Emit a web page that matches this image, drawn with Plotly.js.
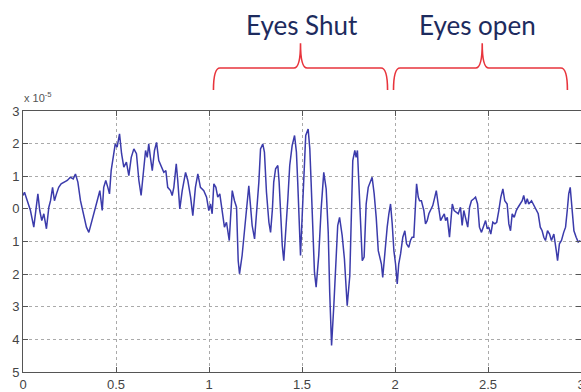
<!DOCTYPE html>
<html>
<head>
<meta charset="utf-8">
<script src="https://cdn.plot.ly/plotly-3.0.1.min.js"></script>
<style>html,body{margin:0;padding:0;background:#fff;}#chart{width:581px;height:392px;}</style>
</head>
<body>
<div id="chart"></div>
<script>
// Time (s)
const timeS = [
0.000,0.008,0.023,0.040,0.058,0.073,0.080,0.090,0.101,0.112,0.121,0.126,0.139,0.148,0.159,0.169,0.180,0.192,0.205,0.219,
0.238,0.255,0.270,0.282,0.295,0.309,0.327,0.341,0.354,0.367,0.381,0.399,0.413,0.426,0.434,0.445,0.456,0.465,0.474,0.485,
0.496,0.506,0.519,0.530,0.542,0.556,0.569,0.582,
0.596,0.610,0.623,0.635,0.646,0.659,0.668,0.676,0.685,0.695,0.707,0.718,0.730,0.743,0.757,0.768,0.778,0.793,0.802,0.811,
0.824,0.832,0.843,0.856,0.874,0.886,0.901,0.913,0.927,0.940,0.954,0.972,0.987,0.999,1.008,1.017,1.026,1.037,1.047,1.058,
1.071,1.083,1.094,1.109,1.116,1.125,1.137,1.148,1.157,1.164,
1.178,1.191,1.205,1.214,1.223,1.232,1.245,1.255,1.268,1.277,1.289,1.298,1.309,1.322,1.331,1.341,1.348,1.358,1.370,1.377,
1.384,1.394,1.402,1.413,1.424,1.434,1.447,1.460,1.470,1.477,1.485,1.492,1.501,1.510,1.520,1.533,1.542,1.549,1.558,1.567,
1.576,1.590,1.603,1.617,1.630,1.641,1.649,1.659,1.671,1.682,1.692,1.702,1.716,1.728,1.743,1.757,
1.766,1.773,1.784,1.791,1.798,1.805,1.815,1.824,1.834,1.845,1.856,1.868,1.877,1.888,1.899,1.910,1.918,1.927,1.934,1.945,
1.958,1.967,1.976,1.985,1.994,2.003,2.012,2.020,2.030,2.042,2.053,2.062,2.074,2.083,2.092,2.101,2.110,2.116,2.125,2.132,
2.142,2.155,2.164,2.173,2.182,2.192,2.203,2.214,2.222,2.232,2.245,2.254,2.265,2.272,2.281,2.293,2.300,2.308,2.318,
2.340,2.352,2.361,2.370,2.379,2.391,2.401,2.411,2.424,2.433,2.444,2.454,2.465,2.476,2.487,2.496,2.504,2.515,2.526,2.537,
2.547,2.558,2.569,2.580,2.590,2.603,2.612,2.621,2.630,2.641,2.652,2.662,2.673,2.684,2.692,2.702,2.711,2.719,2.734,2.746,
2.759,2.770,2.781,2.791,2.800,2.809,2.820,2.831,2.841,2.854,2.867,2.874,2.884,2.895,2.907,2.917,2.926,2.934,2.942,2.953,
2.962,2.974,2.985,2.996
];
// EEG amplitude (x 10^-5)
const amplitude = [
0.41,0.51,0.25,-0.05,-0.56,0.15,0.46,-0.05,-0.36,-0.15,-0.46,-0.61,0.05,0.25,0.66,0.25,0.46,0.66,0.77,0.82,
0.87,0.97,0.92,1.07,0.82,0.25,-0.26,-0.56,-0.72,-0.46,-0.15,0.25,0.56,-0.05,0.66,0.87,0.66,0.46,1.17,1.58,
1.99,1.89,2.30,1.69,1.28,1.43,1.02,1.58,
1.84,1.69,0.87,0.41,1.07,1.79,1.58,1.99,1.58,1.17,1.79,2.04,1.48,1.28,1.12,1.17,0.66,0.56,0.41,0.66,
1.38,0.87,0.00,0.56,1.12,0.87,0.36,-0.21,0.66,1.07,0.66,0.56,0.36,-0.05,0.15,-0.15,0.77,0.66,0.36,0.46,
-0.15,-0.56,-0.41,-0.97,-0.26,0.56,0.25,0.05,-1.59,-1.99,
-1.43,-0.61,0.20,0.71,0.10,-0.51,-0.92,-0.21,0.82,1.84,1.99,1.74,0.51,-0.41,-0.72,0.00,0.82,1.23,1.33,0.82,
-0.21,-1.13,-1.59,-0.72,0.31,1.33,1.94,2.25,1.74,0.82,-0.31,-1.43,-0.21,1.23,2.25,2.45,1.84,0.82,-0.51,-1.94,
-2.40,-1.43,0.00,1.12,0.61,-0.72,-2.56,-4.19,-2.97,-1.43,-0.51,-0.26,-0.82,-1.53,-2.97,-2.05,
0.25,1.48,1.79,1.58,1.79,0.87,-0.67,-1.59,-1.48,0.15,0.66,0.87,0.97,0.46,-0.26,-1.28,-1.53,-1.69,-2.10,-1.28,
-0.56,-0.15,0.15,-0.46,-1.28,-1.69,-2.30,-1.69,-1.38,-0.87,-0.67,-1.07,-1.18,-0.97,-0.87,-0.87,0.36,0.77,0.36,0.25,
0.25,-0.05,-0.46,-0.36,-0.15,-0.05,0.10,0.36,0.56,0.15,-0.36,-0.26,-0.15,-0.36,-0.26,-0.87,-0.26,0.15,-0.05,
-0.15,0.05,-0.51,-0.05,-0.26,-0.56,0.05,0.25,0.31,0.36,0.15,-0.56,-0.72,-0.56,-0.36,-0.61,-0.56,-0.77,-0.41,-0.46,
-0.41,-0.05,0.36,0.61,0.25,0.15,-0.46,-0.67,-0.15,-0.26,-0.05,0.05,0.15,0.25,0.41,0.15,0.31,0.15,0.25,0.10,
-0.05,-0.15,-0.56,-0.67,-0.87,-0.97,-0.67,-0.77,-0.97,-0.77,-1.28,-1.59,-1.07,-0.97,-0.72,-0.56,-0.05,0.46,0.66,0.05,
-0.67,-0.87,-1.02,-0.97
];
const xTickVals = [0, 0.5, 1, 1.5, 2, 2.5, 3];
const xTickText = ['0', '0.5', '1', '1.5', '2', '2.5', '3'];
const yTickVals = [-5, -4, -3, -2, -1, 0, 1, 2, 3];
const yTickText = ['5', '4', '3', '2', '1', '0', '1', '2', '3'];
const phaseLabels = ['Eyes Shut', 'Eyes open'];
const phaseStart = [1.024, 1.992];
const phaseEnd = [1.960, 2.927];
const phaseMid = [1.492, 2.469];
const labelX = [1.501, 2.442];

function bracePath(x1, x2, xc) {
  const yb = 1.08, yt = 1.165, ytop = 1.26, d = 0.035;
  return `M ${x1},${yb} Q ${x1},${yt} ${x1 + d},${yt} L ${xc - d},${yt} Q ${xc},${yt} ${xc},${ytop} ` +
         `Q ${xc},${yt} ${xc + d},${yt} L ${x2 - d},${yt} Q ${x2},${yt} ${x2},${yb}`;
}

const shapes = phaseStart.map((s, i) => ({
  type: 'path', xref: 'x', yref: 'paper',
  path: bracePath(s, phaseEnd[i], phaseMid[i]),
  line: {color: '#e8343c', width: 1.6}
}));

const annotations = phaseLabels.map((t, i) => ({
  text: t, xref: 'x', yref: 'paper', x: labelX[i], y: 1.33,
  xanchor: 'center', yanchor: 'middle', showarrow: false,
  font: {family: 'Lato, Open Sans, sans-serif', size: 26, color: '#1d2b5e'}
}));
annotations.push({
  text: 'x 10<sup>-5</sup>', xref: 'paper', yref: 'paper', x: -0.002, y: 1.055,
  xanchor: 'left', yanchor: 'middle', showarrow: false,
  font: {family: 'Liberation Sans, Arial, sans-serif', size: 11, color: '#555'}
});

const trace = {
  x: timeS, y: amplitude, type: 'scatter', mode: 'lines',
  line: {color: '#3b3bab', width: 1.5},
  hoverinfo: 'skip'
};

const axisCommon = {
  showline: true, linecolor: '#555', linewidth: 1, mirror: 'ticks',
  ticks: 'inside', ticklen: 5, tickcolor: '#555',
  showgrid: true, gridcolor: '#aaaaaa', griddash: 'dot', gridwidth: 1,
  zeroline: false, ticklabeloverflow: 'allow',
  tickfont: {family: 'Liberation Sans, Arial, sans-serif', size: 13, color: '#444'}
};

const layout = {
  width: 581, height: 392,
  margin: {l: 23, r: 0, t: 111, b: 20, pad: 0},
  paper_bgcolor: '#fff', plot_bgcolor: '#fff',
  showlegend: false,
  xaxis: Object.assign({}, axisCommon, {range: [0, 3], tickmode: 'array', tickvals: xTickVals, ticktext: xTickText}),
  yaxis: Object.assign({}, axisCommon, {range: [-5, 3], tickmode: 'array', tickvals: yTickVals, ticktext: yTickText}),
  shapes: shapes,
  annotations: annotations
};

Plotly.newPlot('chart', [trace], layout, {displayModeBar: false, staticPlot: true});
</script>
</body>
</html>
